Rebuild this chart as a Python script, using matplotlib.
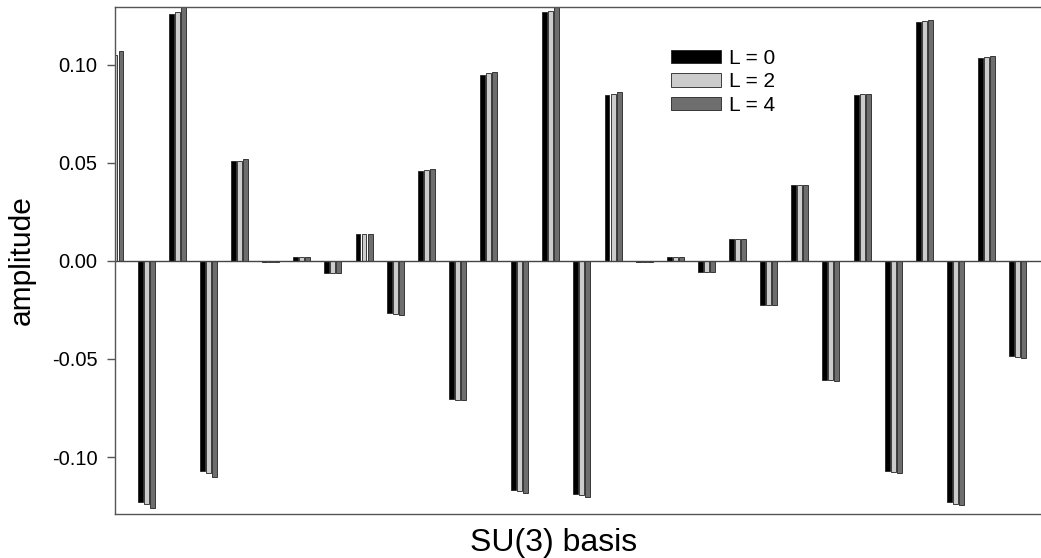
import matplotlib.pyplot as plt
import numpy as np

#%% DATA

labels = ["L = 0", "L = 2", "L = 4"]
colors = ["#000000", "#cccccc", "#6e6e6e"]

amp_L0 = [0.104, -0.1230, 0.1260, -0.1072, 0.0511, -0.0005, 0.0020, -0.0062, 0.0136, -0.0268,
          0.0460, -0.0702, 0.0949, -0.1167, 0.1266, -0.1186, 0.0847, -0.0005, 0.0018, -0.0055,
          0.0110, -0.0223, 0.0385, -0.0605, 0.0844, -0.1072, 0.1218, -0.1230, 0.1032, -0.0486]
amp_L2 = [0.105, -0.1240, 0.1271, -0.1082, 0.0511, -0.0005, 0.0020, -0.0062, 0.0136, -0.0270,
          0.0465, -0.0707, 0.0956, -0.1172, 0.1275, -0.1191, 0.0850, -0.0005, 0.0018, -0.0055,
          0.0110, -0.0223, 0.0387, -0.0608, 0.0849, -0.1077, 0.1223, -0.1237, 0.1037, -0.0491]
amp_L4 = [0.107, -0.1258, 0.1300, -0.1100, 0.0521, -0.0005, 0.0020, -0.0062, 0.0138, -0.0274,
          0.0469, -0.0710, 0.0964, -0.1182, 0.1300, -0.1201, 0.0862, -0.0005, 0.0018, -0.0055,
          0.0111, -0.0223, 0.0387, -0.0611, 0.0849, -0.1080, 0.1229, -0.1244, 0.1042, -0.0496]

#%% PLOT

plt.rcParams['font.family'] = ['Liberation Sans', 'DejaVu Sans']

fig = plt.figure(figsize=(10.41, 5.58), dpi=100)
ax = fig.add_axes([115/1041, 44/558, 926/1041, 507/558])

x = np.arange(len(amp_L0))
step = 0.193
width = 0.16
for k, vals in enumerate([amp_L0, amp_L2, amp_L4]):
    ax.bar(x + (k - 1) * step, vals, width, color=colors[k], edgecolor="#222222",
           linewidth=0.6, label=labels[k])

ax.axhline(0, color="#444444", linewidth=1.0)

ax.set_xlim(0, 29.75)
ax.set_ylim(-0.129, 0.1294)
ax.set_yticks([-0.10, -0.05, 0.0, 0.05, 0.10])
ax.set_yticklabels(["-0.10", "-0.05", "0.00", "0.05", "0.10"])
ax.set_xticks([])

ax.spines["right"].set_visible(False)
for s in ["left", "top", "bottom"]:
    ax.spines[s].set_color("#555555")
    ax.spines[s].set_linewidth(1.0)
ax.tick_params(axis="y", direction="out", length=6, width=1, color="#555555",
               labelsize=14.5, pad=6.5)

ax.set_ylabel("amplitude", fontsize=21.5, labelpad=12)
ax.set_xlabel("SU(3) basis", fontsize=23)
ax.xaxis.set_label_coords((554 - 115) / 926, (514 - 543) / 507)
ax.xaxis.label.set_verticalalignment("center")

ax.legend(loc="upper left", bbox_to_anchor=(652/1041, 1 - 30/558),
          bbox_transform=fig.transFigure, frameon=False, fontsize=15,
          handlelength=2.4, handleheight=0.6, labelspacing=0.22, handletextpad=0.4)

plt.savefig("out.png", dpi=100)
